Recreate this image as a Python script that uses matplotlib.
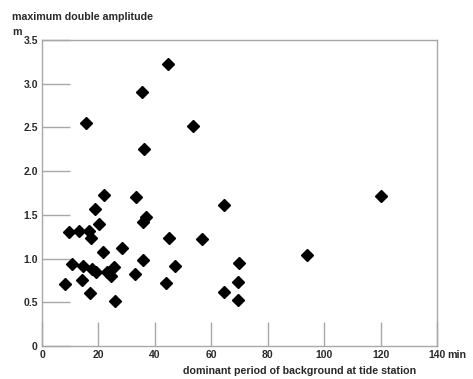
import matplotlib.pyplot as plt

# dominant period (min) and max double amplitude (m)
period = [44.8, 35.6, 15.6, 53.4, 36.1, 22.0, 33.4, 64.6, 18.8, 36.8,
          35.7, 20.1, 9.6, 13.1, 16.6, 17.5, 45.0, 56.7, 28.5, 21.6,
          35.9, 10.8, 14.4, 47.0, 25.6, 17.6, 19.0, 23.2, 24.6, 32.9,
          14.1, 8.3, 44.0, 16.9, 64.6, 25.9, 120.0, 94.1, 70.0, 69.6, 69.3]
amplitude = [3.23, 2.91, 2.55, 2.52, 2.25, 1.73, 1.70, 1.61, 1.57, 1.48,
             1.42, 1.40, 1.30, 1.31, 1.32, 1.24, 1.23, 1.22, 1.12, 1.08,
             0.98, 0.94, 0.92, 0.92, 0.90, 0.88, 0.85, 0.85, 0.80, 0.82,
             0.76, 0.71, 0.72, 0.61, 0.62, 0.52, 1.71, 1.04, 0.95, 0.73, 0.53]

xticks = [0, 20, 40, 60, 80, 100, 120, 140]
yticks = [0, 0.5, 1.0, 1.5, 2.0, 2.5, 3.0, 3.5]
yticklabels = ['0', '0.5', '1.0', '1.5', '2.0', '2.5', '3.0', '3.5']

plt.rcParams['font.family'] = ['Liberation Sans', 'DejaVu Sans']
txt = '#2a2a2a'
grey = '#a8a8a8'

fig = plt.figure(figsize=(4.73, 3.79), dpi=100)
ax = fig.add_axes([0.0888, 0.0871, 0.835, 0.8074])
ax.plot(period, amplitude, linestyle='none', marker='D', markersize=6,
        color='black')

ax.set_xlim(0, 140)
ax.set_ylim(0, 3.5)
ax.set_xticks(xticks)
ax.set_yticks(yticks)
ax.set_yticklabels(yticklabels)
ax.tick_params(axis='y', direction='in', length=20, width=1, color=grey,
               labelsize=7.5, labelcolor=txt, pad=3)
ax.tick_params(axis='x', direction='in', length=17, width=1, color=grey,
               labelsize=7.5, labelcolor=txt, pad=3)
for lab in ax.get_xticklabels() + ax.get_yticklabels():
    lab.set_fontweight('bold')
for s in ax.spines.values():
    s.set_color(grey)
    s.set_linewidth(1)

fig.text(12 / 473, 1 - 17 / 379, 'maximum double amplitude', fontsize=7.7,
         fontweight='bold', color=txt, va='center')
fig.text(12 / 473, 1 - 32 / 379, 'm', fontsize=7.7, fontweight='bold',
         color=txt, va='center')
fig.text(447 / 473, 1 - 355 / 379, 'min', fontsize=7.7, fontweight='bold',
         color=txt, va='center')
fig.text(300 / 473, 1 - 371 / 379, 'dominant period of background at tide station',
         fontsize=7.7, fontweight='bold', color=txt, va='center', ha='center')

fig.savefig('out.png', dpi=100)
